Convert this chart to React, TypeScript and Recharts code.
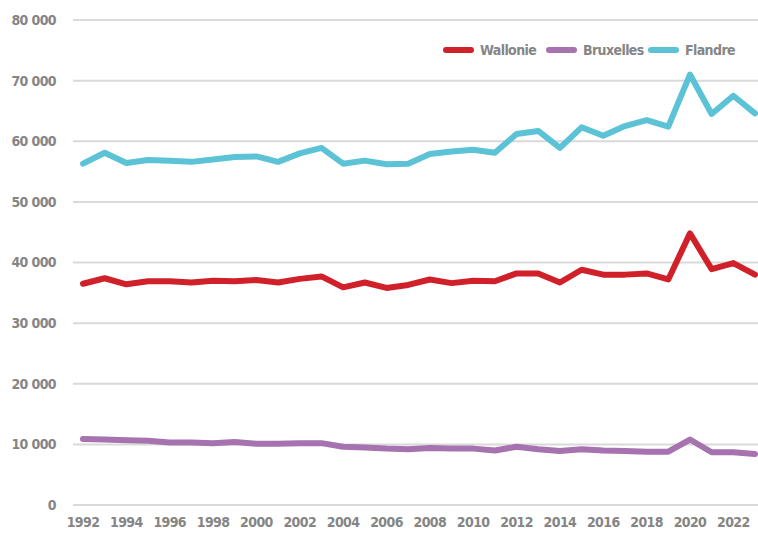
import { LineChart, Line, XAxis, YAxis, CartesianGrid } from "recharts";

const years = [
  1992, 1993, 1994, 1995, 1996, 1997, 1998, 1999, 2000, 2001, 2002, 2003,
  2004, 2005, 2006, 2007, 2008, 2009, 2010, 2011, 2012, 2013, 2014, 2015,
  2016, 2017, 2018, 2019, 2020, 2021, 2022, 2023,
];

const wallonie = [
  36500, 37400, 36400, 36900, 36900, 36700, 37000, 36900, 37100, 36700, 37300,
  37700, 35900, 36700, 35800, 36300, 37200, 36600, 37000, 36900, 38200, 38200,
  36700, 38800, 38000, 38000, 38200, 37200, 44800, 38900, 39900, 38000,
];

const bruxelles = [
  10900, 10800, 10700, 10600, 10300, 10300, 10200, 10400, 10100, 10100, 10200,
  10200, 9600, 9500, 9300, 9200, 9400, 9300, 9300, 9000, 9600, 9200, 8900,
  9200, 9000, 8900, 8800, 8800, 10800, 8700, 8700, 8400,
];

const flandre = [
  56300, 58100, 56400, 56900, 56800, 56600, 57000, 57400, 57500, 56600, 58000,
  58900, 56300, 56800, 56200, 56300, 57900, 58300, 58600, 58100, 61200, 61700,
  58900, 62300, 60900, 62500, 63500, 62400, 71000, 64500, 67500, 64600,
];

const yTicks = [0, 10000, 20000, 30000, 40000, 50000, 60000, 70000, 80000];

const series = [
  { key: "wallonie", name: "Wallonie", color: "#d0202a", x: 443 },
  { key: "bruxelles", name: "Bruxelles", color: "#a672b0", x: 546 },
  { key: "flandre", name: "Flandre", color: "#5bc3d5", x: 648 },
];

const data = years.map((year, i) => ({
  year,
  wallonie: wallonie[i],
  bruxelles: bruxelles[i],
  flandre: flandre[i],
}));

const FONT = '"Liberation Sans Narrow", "DejaVu Sans Condensed", sans-serif';
const TEXT = "#858585";
const tickStyle = {
  fontSize: 14,
  fontWeight: 700,
  fill: TEXT,
  fontFamily: FONT,
  letterSpacing: -0.6,
};

const formatThousands = (v: number) =>
  v === 0 ? "0" : `${Math.floor(v / 1000)} ${String(v % 1000).padStart(3, "0")}`;

export default function App() {
  return (
    <div
      style={{
        position: "absolute",
        left: 0,
        top: 0,
        width: 758,
        height: 533,
        background: "#fff",
      }}
    >
      <LineChart
        width={758}
        height={533}
        data={data}
        margin={{ top: 20, right: 0, left: 0, bottom: 0 }}
      >
        <CartesianGrid vertical={false} stroke="#d9d9d9" strokeWidth={2} />
        <XAxis
          dataKey="year"
          interval={1}
          height={28}
          padding={{ left: 10, right: 3 }}
          tickLine={false}
          axisLine={false}
          tickSize={0}
          tickMargin={12}
          tick={tickStyle}
        />
        <YAxis
          domain={[0, 80000]}
          ticks={yTicks}
          width={73}
          tickLine={false}
          axisLine={false}
          tickSize={0}
          tickMargin={17}
          tickFormatter={formatThousands}
          tick={tickStyle}
        />
        {series.map((s) => (
          <Line
            key={s.key}
            dataKey={s.key}
            name={s.name}
            stroke={s.color}
            strokeWidth={6}
            strokeLinejoin="round"
            strokeLinecap="round"
            dot={false}
            activeDot={false}
            isAnimationActive={false}
          />
        ))}
      </LineChart>

      {/* Legend */}
      {series.map((s) => (
        <div
          key={s.key}
          style={{
            position: "absolute",
            left: s.x,
            top: 41,
            height: 18,
            display: "flex",
            alignItems: "center",
            fontFamily: FONT,
            whiteSpace: "nowrap",
          }}
        >
          <span
            style={{
              display: "inline-block",
              width: 31,
              height: 6,
              borderRadius: 3,
              background: s.color,
              marginRight: 6,
            }}
          />
          <span
            style={{
              fontSize: 14,
              fontWeight: 700,
              color: TEXT,
              letterSpacing: -0.6,
            }}
          >
            {s.name}
          </span>
        </div>
      ))}
    </div>
  );
}
